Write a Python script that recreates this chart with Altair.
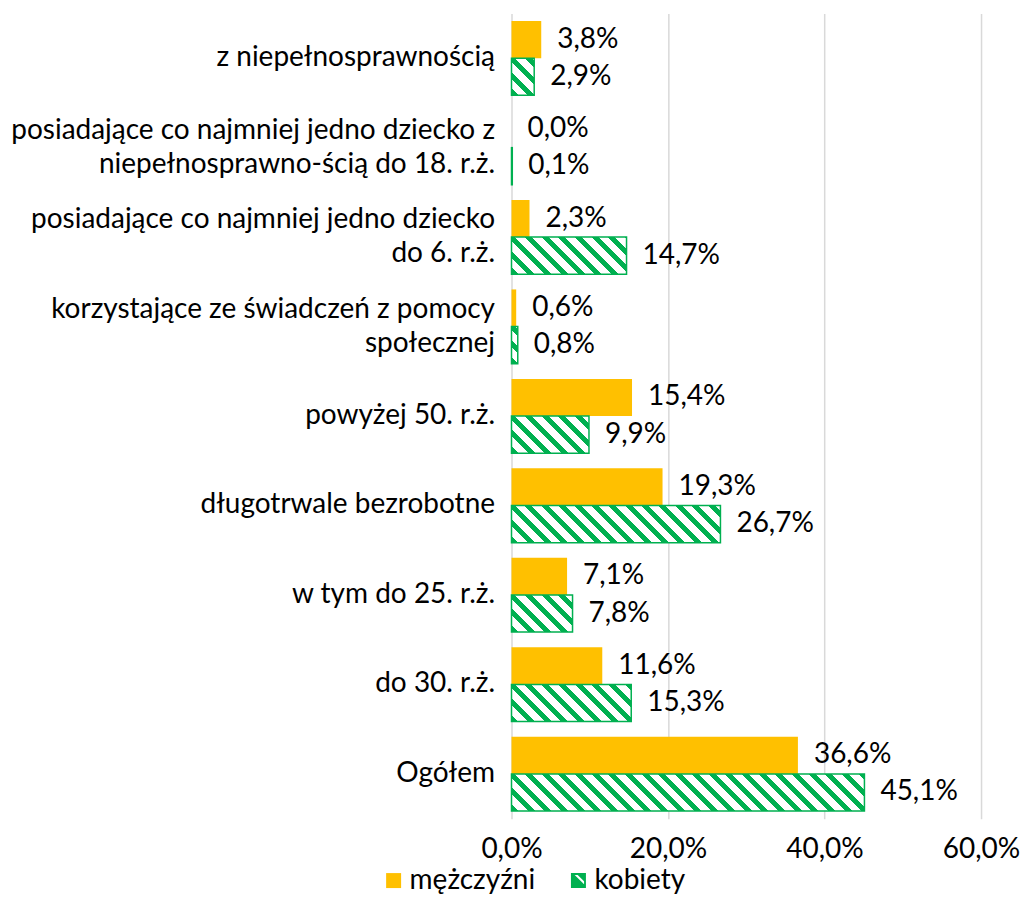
import altair as alt
import pandas as pd

categories = [
    "z niepełnosprawnością",
    "posiadające co najmniej jedno dziecko z\nniepełnosprawno-ścią do 18. r.ż.",
    "posiadające co najmniej jedno dziecko\ndo 6. r.ż.",
    "korzystające ze świadczeń z pomocy\nspołecznej",
    "powyżej 50. r.ż.",
    "długotrwale bezrobotne",
    "w tym do 25. r.ż.",
    "do 30. r.ż.",
    "Ogółem",
]
series = ["mężczyźni", "kobiety"]
men = [3.8, 0.0, 2.3, 0.6, 15.4, 19.3, 7.1, 11.6, 36.6]
women = [2.9, 0.1, 14.7, 0.8, 9.9, 26.7, 7.8, 15.3, 45.1]
x_ticks = [0, 20, 40, 60]

ORANGE = "#FFC000"
GREEN = "#00B050"
FONT = "Lato"
FS = 28
LINE_H = 34

W = 470
H = 806
P_IN = 0.17
P_OUT = 0.085
X_MAX = 60

rows = []
for c, m, f in zip(categories, men, women):
    rows.append({"cat": c, "series": series[0], "value": m})
    rows.append({"cat": c, "series": series[1], "value": f})
df = pd.DataFrame(rows)
df["label"] = df["value"].map(lambda v: f"{v:.1f}".replace(".", ",") + "%")

step = H / (len(categories) - P_IN + 2 * P_OUT)
SUB = step * (1 - P_IN) / 2
PERIOD = 16.7
GREEN_FRAC = 0.42


def hatch(v):
    w = max(v / X_MAX * W, 0.5)
    h = SUB
    r = h / w
    s = (1 + r) / (1 + r * r)
    total = w + h
    p = PERIOD / total
    stops = []
    k = 0
    while k * p < 1:
        a = k * p
        b = min(1.0, a + p * GREEN_FRAC)
        c = min(1.0, (k + 1) * p)
        stops += [(a, GREEN), (b, GREEN), (b, "#FFFFFF"), (c, "#FFFFFF")]
        k += 1
    return {
        "gradient": "linear",
        "x1": 0, "y1": 1, "x2": round(s, 6), "y2": round(1 - s * r, 6),
        "stops": [{"offset": round(o, 6), "color": col} for o, col in stops],
    }


y_enc = alt.Y(
    "cat:N",
    sort=categories,
    scale=alt.Scale(domain=categories, paddingInner=P_IN, paddingOuter=P_OUT),
    axis=alt.Axis(
        title=None,
        labelExpr="split(datum.label, '\\n')",
        labelFont=FONT,
        labelFontSize=FS,
        labelColor="#000000",
        labelLimit=700,
        labelPadding=17,
        labelLineHeight=LINE_H,
        labelAlign="right",
        labelOffset={
            "condition": {"test": "indexof(datum.label, '\\n') >= 0", "value": -LINE_H / 2},
            "value": 0,
        },
        ticks=False,
        domain=False,
        grid=False,
    ),
)
yoff_enc = alt.YOffset("series:N", scale=alt.Scale(domain=series))
x_enc = alt.X(
    "value:Q",
    scale=alt.Scale(domain=[0, X_MAX], nice=False),
    axis=alt.Axis(
        title=None,
        values=x_ticks,
        labelExpr="replace(format(datum.value, '.1f'), '.', ',') + '%'",
        labelFont=FONT,
        labelFontSize=FS,
        labelColor="#000000",
        labelPadding=17,
        labelFlush=False,
        ticks=False,
        domain=False,
        grid=True,
        gridColor="#D9D9D9",
        gridWidth=1.5,
    ),
)

base = alt.Chart(df)

men_bars = base.transform_filter(alt.datum.series == series[0]).mark_bar().encode(
    x=x_enc,
    y=y_enc,
    yOffset=yoff_enc,
    color=alt.Color(
        "series:N",
        scale=alt.Scale(domain=series, range=[ORANGE, GREEN]),
        legend=alt.Legend(
            title=None,
            orient="none",
            legendX=-132,
            legendY=854,
            direction="horizontal",
            labelFont=FONT,
            labelFontSize=FS,
            labelColor="#000000",
            symbolSize=225,
            symbolStrokeWidth=0,
            labelOffset=2,
            columnPadding=29,
            symbolType={"expr": "datum.value == 'kobiety' ? 'M-1,-1H1V1H-1Z M-0.5,-0.75L0.75,0.5L0.75,0.1L-0.1,-0.75Z M-0.75,-0.1L0.1,0.75L-0.3,0.75L-0.75,0.3Z' : 'square'"},
        ),
    ),
)

layers = [men_bars]
for c, f in zip(categories, women):
    layers.append(
        base.transform_filter(
            (alt.datum.series == series[1]) & (alt.datum.cat == c)
        ).mark_bar(fill=hatch(f), stroke=GREEN, strokeWidth=1.5).encode(
            x=x_enc, y=y_enc, yOffset=yoff_enc
        )
    )

labels = base.mark_text(
    align="left", baseline="middle", dx=16, font=FONT, fontSize=FS, color="#000000"
).encode(x=x_enc, y=y_enc, yOffset=yoff_enc, text="label:N")
layers.append(labels)

chart = alt.layer(*layers).properties(
    width=W,
    height=H,
    padding={"left": 504, "top": 5, "right": 39, "bottom": 76},
    autosize=alt.AutoSizeParams(type="none"),
).configure_view(stroke=None)

chart.save("out.html", embed_options={"renderer": "svg", "actions": False})
